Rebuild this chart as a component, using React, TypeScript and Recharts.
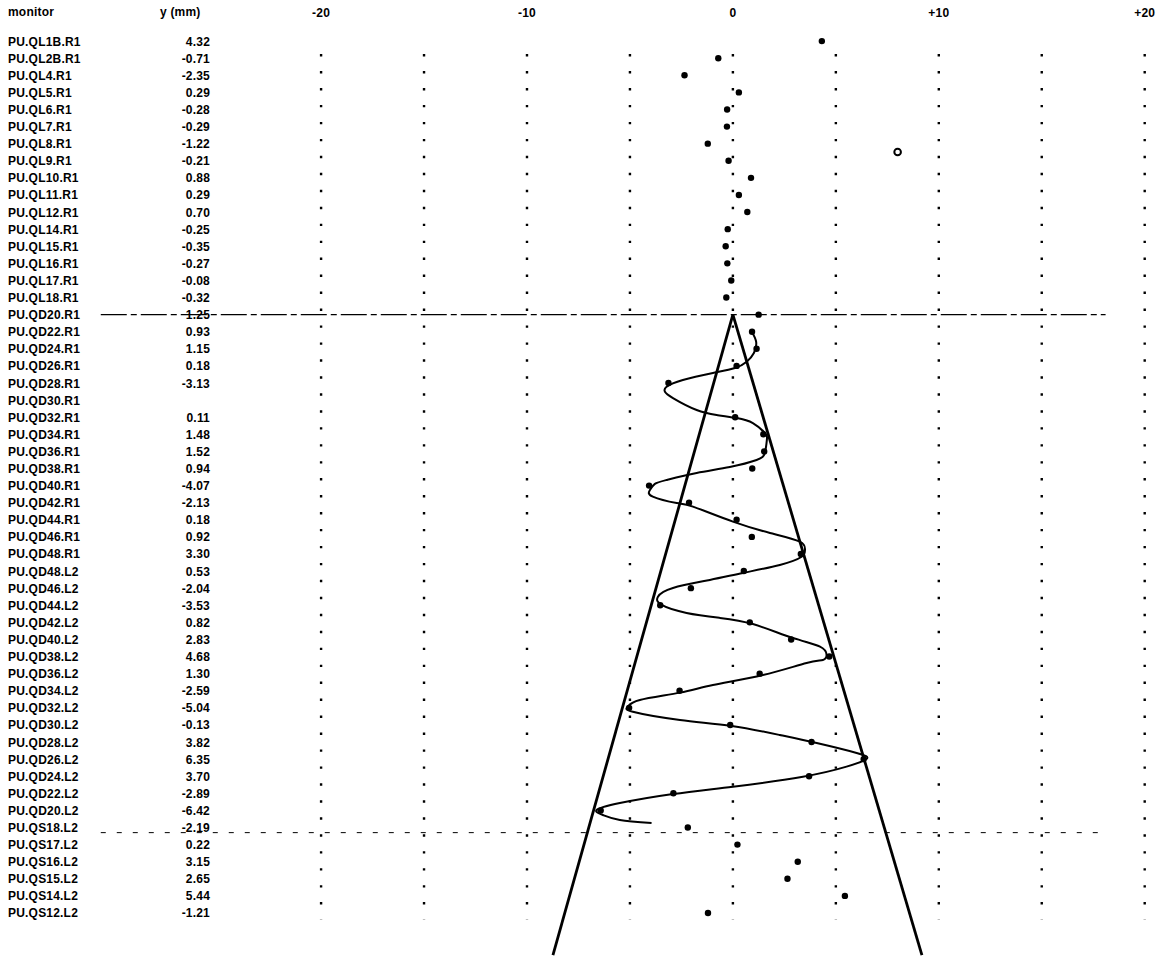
import {
  ComposedChart,
  Line,
  ReferenceLine,
  Scatter,
  XAxis,
  YAxis,
} from "recharts";

// beam position monitors, in the order they are printed
const monitors = [
  "PU.QL1B.R1", "PU.QL2B.R1", "PU.QL4.R1", "PU.QL5.R1", "PU.QL6.R1", "PU.QL7.R1",
  "PU.QL8.R1", "PU.QL9.R1", "PU.QL10.R1", "PU.QL11.R1", "PU.QL12.R1", "PU.QL14.R1",
  "PU.QL15.R1", "PU.QL16.R1", "PU.QL17.R1", "PU.QL18.R1",
  "PU.QD20.R1", "PU.QD22.R1", "PU.QD24.R1", "PU.QD26.R1", "PU.QD28.R1", "PU.QD30.R1",
  "PU.QD32.R1", "PU.QD34.R1", "PU.QD36.R1", "PU.QD38.R1", "PU.QD40.R1", "PU.QD42.R1",
  "PU.QD44.R1", "PU.QD46.R1", "PU.QD48.R1",
  "PU.QD48.L2", "PU.QD46.L2", "PU.QD44.L2", "PU.QD42.L2", "PU.QD40.L2", "PU.QD38.L2",
  "PU.QD36.L2", "PU.QD34.L2", "PU.QD32.L2", "PU.QD30.L2", "PU.QD28.L2", "PU.QD26.L2",
  "PU.QD24.L2", "PU.QD22.L2", "PU.QD20.L2",
  "PU.QS18.L2", "PU.QS17.L2", "PU.QS16.L2", "PU.QS15.L2", "PU.QS14.L2", "PU.QS12.L2",
];

// measured y (mm); null = no reading
const offsets: (number | null)[] = [
  4.32, -0.71, -2.35, 0.29, -0.28, -0.29, -1.22, -0.21, 0.88, 0.29, 0.7, -0.25,
  -0.35, -0.27, -0.08, -0.32,
  1.25, 0.93, 1.15, 0.18, -3.13, null, 0.11, 1.48, 1.52, 0.94, -4.07, -2.13,
  0.18, 0.92, 3.3,
  0.53, -2.04, -3.53, 0.82, 2.83, 4.68, 1.3, -2.59, -5.04, -0.13, 3.82, 6.35,
  3.7, -2.89, -6.42,
  -2.19, 0.22, 3.15, 2.65, 5.44, -1.21,
];

// flagged reading drawn as an open circle
const flaggedX = [8.0];
const flaggedRow = [6.49];

// hand-drawn oscillation
const curveX = [
  0.92, 1.13, 1.02, 0.67, 0.1, -0.97, -2.43, -3.22, -3.3, -2.91, -1.76, -0.79,
  0.18, 0.97, 1.55, 1.65, 1.55, 1.15, -0.15, -1.76, -3.22, -3.79, -4.03, -3.89,
  -2.73, -1.94, 0, 1.8, 3.25, 3.5, 3.34, 2.28, 0.49, -1.12, -2.91, -3.64,
  -3.46, -2.25, -0.63, 0.97, 2.91, 4.23, 4.55, 4.37, 3.58, 1.46, -0.97, -2.57,
  -4.52, -5.1, -4.86, -2.57, -0.06, 2.28, 4.07, 6.01, 6.49, 5.52, 3.4, 0,
  -2.91, -5.49, -6.62, -6.31, -5.49, -3.95,
];
const curveRow = [
  17.0, 17.6, 18.24, 18.75, 19.12, 19.41, 19.82, 20.22, 20.51, 20.88, 21.58, 21.87,
  22.05, 22.34, 22.92, 23.33, 24.09, 24.5, 24.91, 25.26, 25.67, 25.9, 26.26, 26.65,
  27.02, 27.23, 28.11, 28.77, 29.28, 29.77, 30.16, 30.64, 31.11, 31.52, 31.99, 32.5,
  32.98, 33.45, 33.74, 34.1, 34.91, 35.42, 35.91, 36.2, 36.38, 37.08, 37.66, 38.11,
  38.54, 38.93, 39.23, 39.71, 40.06, 40.59, 41.06, 41.64, 41.99, 42.44, 43.03, 43.61,
  44.04, 44.57, 44.98, 45.27, 45.56, 45.74,
];

// envelope legs
const envRow = [16, 53.46];
const envLeftX = [0, -8.74];
const envRightX = [0, 9.18];

// dashed separators
const separatorRows = [16, 46.3];
const separatorSpan = [-30.7, 18.1];

const gridXs = [-20, -15, -10, -5, 0, 5, 10, 15, 20];
const gridRowSpan = [0.76, 51.36];
const xTicks = [-20, -10, 0, 10, 20];

const rows = monitors.map((_, i) => i);
const measured = offsets
  .map((x, row) => ({ x, row }))
  .filter((d) => d.x !== null);
const flagged = flaggedX.map((x, i) => ({ x, row: flaggedRow[i] }));
const curve = curveX.map((x, i) => ({ x, row: curveRow[i] }));
const envLeft = envRow.map((row, i) => ({ x: envLeftX[i], row }));
const envRight = envRow.map((row, i) => ({ x: envRightX[i], row }));

const FONT = "'Liberation Sans', Arial, sans-serif";
const textStyle = { fontFamily: FONT, fontSize: 12, fontWeight: 700, letterSpacing: 0.2 };

function MonitorTick(props: any) {
  const { y, payload } = props;
  const i = payload.value as number;
  const v = offsets[i];
  return (
    <g style={textStyle}>
      <text x={8} y={y + 4.5} fill="#000">
        {monitors[i]}
      </text>
      {v !== null && v !== undefined ? (
        <text x={210} y={y + 4.5} textAnchor="end" fill="#000">
          {v.toFixed(2)}
        </text>
      ) : null}
    </g>
  );
}

function ScaleTick(props: any) {
  const { x, payload } = props;
  const v = payload.value as number;
  return (
    <text x={x} y={17} textAnchor="middle" fill="#000" style={textStyle}>
      {v > 0 ? `+${v}` : `${v}`}
    </text>
  );
}

function Dot(props: any) {
  const { cx, cy } = props;
  if (cx == null || cy == null) return <g />;
  return <circle cx={cx} cy={cy} r={3.2} fill="#000" />;
}

function OpenDot(props: any) {
  const { cx, cy } = props;
  if (cx == null || cy == null) return <g />;
  return <circle cx={cx} cy={cy} r={3.3} fill="none" stroke="#000" strokeWidth={2} />;
}

export default function App() {
  return (
    <div
      style={{
        position: "absolute",
        left: 0,
        top: 0,
        width: 1156,
        height: 960,
        background: "#fff",
        overflow: "hidden",
      }}
    >
      <div style={{ position: "absolute", left: 8, top: 5, ...textStyle }}>monitor</div>
      <div style={{ position: "absolute", left: 160, top: 5, ...textStyle }}>y (mm)</div>
      <ComposedChart
        width={1156}
        height={960}
        layout="vertical"
        margin={{ top: 0, right: 1, bottom: 0, left: 0 }}
      >
        <XAxis
          type="number"
          dataKey="x"
          orientation="top"
          height={24}
          domain={[-32, 20.5]}
          allowDataOverflow
          ticks={xTicks}
          tick={<ScaleTick />}
          axisLine={false}
          tickLine={false}
        />
        <YAxis
          type="number"
          dataKey="row"
          width={74}
          domain={[-1, 53.75]}
          allowDataOverflow
          ticks={rows}
          interval={0}
          tick={<MonitorTick />}
          axisLine={false}
          tickLine={false}
        />
        {gridXs.map((gx) => (
          <ReferenceLine
            key={`g${gx}`}
            segment={[
              { x: gx, y: gridRowSpan[0] },
              { x: gx, y: gridRowSpan[1] },
            ]}
            stroke="#000"
            strokeWidth={2.4}
            strokeDasharray="2.4 14.56"
          />
        ))}
        <ReferenceLine
          segment={[
            { x: separatorSpan[0], y: separatorRows[0] },
            { x: separatorSpan[1], y: separatorRows[0] },
          ]}
          stroke="#000"
          strokeWidth={1.4}
          strokeDasharray="26 4 6 4"
        />
        <ReferenceLine
          segment={[
            { x: separatorSpan[0], y: separatorRows[1] },
            { x: separatorSpan[1], y: separatorRows[1] },
          ]}
          stroke="#000"
          strokeWidth={1}
          strokeDasharray="5 11"
        />
        <Line
          data={envLeft}
          dataKey="x"
          type="linear"
          stroke="#000"
          strokeWidth={2.8}
          dot={false}
          isAnimationActive={false}
        />
        <Line
          data={envRight}
          dataKey="x"
          type="linear"
          stroke="#000"
          strokeWidth={2.8}
          dot={false}
          isAnimationActive={false}
        />
        <Line
          data={curve}
          dataKey="x"
          type="natural"
          stroke="#000"
          strokeWidth={2}
          dot={false}
          isAnimationActive={false}
        />
        <Scatter data={measured} dataKey="x" shape={<Dot />} isAnimationActive={false} />
        <Scatter data={flagged} dataKey="x" shape={<OpenDot />} isAnimationActive={false} />
      </ComposedChart>
    </div>
  );
}
